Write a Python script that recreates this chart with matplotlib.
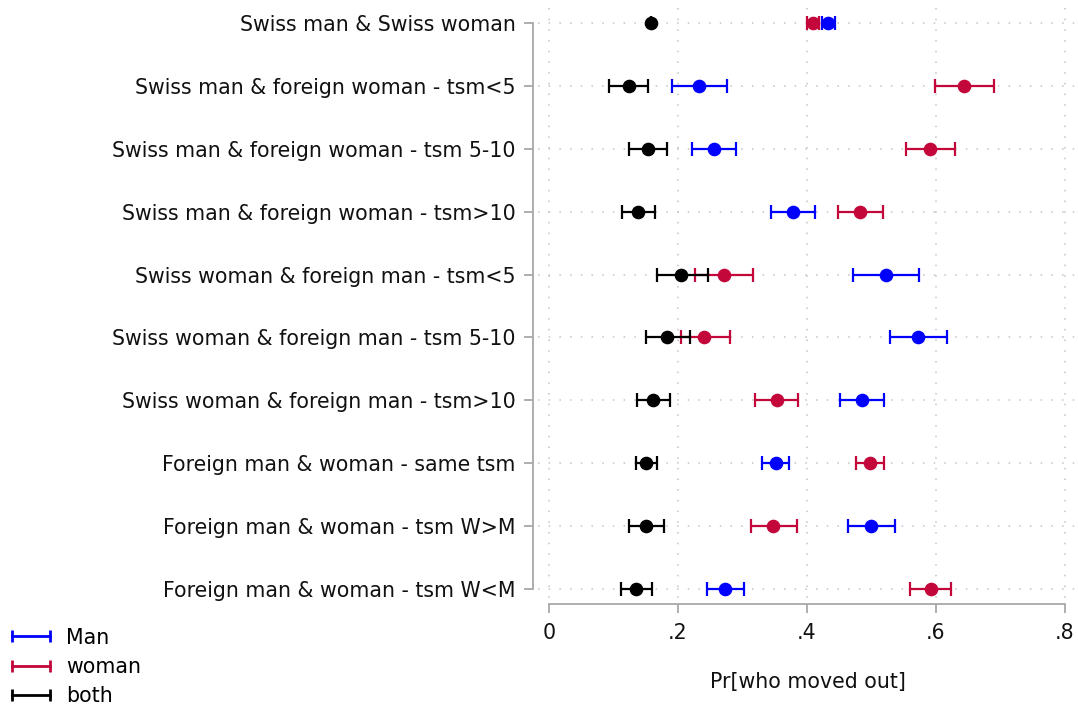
import numpy as np
import matplotlib.pyplot as plt
from matplotlib.lines import Line2D

# categorias (de cima para baixo)
categorias = [
    "Swiss man & Swiss woman",
    "Swiss man & foreign woman - tsm<5",
    "Swiss man & foreign woman - tsm 5-10",
    "Swiss man & foreign woman - tsm>10",
    "Swiss woman & foreign man - tsm<5",
    "Swiss woman & foreign man - tsm 5-10",
    "Swiss woman & foreign man - tsm>10",
    "Foreign man & woman - same tsm",
    "Foreign man & woman - tsm W>M",
    "Foreign man & woman - tsm W<M",
]

# Man
man_est = [0.432, 0.233, 0.256, 0.379, 0.522, 0.572, 0.485, 0.352, 0.500, 0.273]
man_lo = [0.424, 0.190, 0.222, 0.344, 0.471, 0.529, 0.451, 0.331, 0.463, 0.245]
man_hi = [0.443, 0.276, 0.290, 0.413, 0.574, 0.617, 0.520, 0.372, 0.537, 0.303]

# woman
woman_est = [0.409, 0.643, 0.591, 0.482, 0.271, 0.241, 0.353, 0.497, 0.348, 0.592]
woman_lo = [0.400, 0.598, 0.553, 0.448, 0.226, 0.205, 0.319, 0.476, 0.313, 0.560]
woman_hi = [0.418, 0.690, 0.630, 0.518, 0.316, 0.280, 0.386, 0.519, 0.385, 0.624]

# both
both_est = [0.158, 0.124, 0.154, 0.138, 0.205, 0.183, 0.161, 0.151, 0.151, 0.135]
both_lo = [0.158, 0.093, 0.124, 0.113, 0.167, 0.151, 0.136, 0.135, 0.124, 0.112]
both_hi = [0.158, 0.154, 0.183, 0.164, 0.246, 0.218, 0.187, 0.167, 0.178, 0.159]

xticks = [0, 0.2, 0.4, 0.6, 0.8]
xtick_labels = ["0", ".2", ".4", ".6", ".8"]

cor_man = "#0000ff"
cor_woman = "#c4073b"
cor_both = "#000000"
cor_eixo = "#a8a8a8"
tam_fonte = 14.8

fig = plt.figure(figsize=(10.78, 7.07), dpi=100)
ax = fig.add_axes([538 / 1078, 1 - 599 / 707, 540 / 1078, 591 / 707])

pos = np.arange(1, len(categorias) + 1)

series = [
    (man_est, man_lo, man_hi, cor_man),
    (woman_est, woman_lo, woman_hi, cor_woman),
    (both_est, both_lo, both_hi, cor_both),
]
for est, lo, hi, cor in series:
    est = np.array(est)
    erro = [est - np.array(lo), np.array(hi) - est]
    ax.errorbar(est, pos, xerr=erro, fmt="o", color=cor, ms=8.8,
                elinewidth=1.6, capsize=5, capthick=1.6, zorder=3)

# grade pontilhada
ax.set_xlim(-0.01705, 0.8202)
ax.set_ylim(10.159, 0.7615)
ax.vlines(xticks, 0.7615, 10.159, colors="#c4c4c4", linestyles=(0, (1, 6)), lw=1.1, zorder=1)
ax.hlines(pos, -0.01705, 0.8202, colors="#c4c4c4", linestyles=(0, (1, 6)), lw=1.1, zorder=1)

ax.set_yticks(pos)
ax.set_yticklabels(categorias)
ax.set_xticks(xticks)
ax.set_xticklabels(xtick_labels)
ax.tick_params(axis="both", colors=cor_eixo, labelcolor="#111111", width=1.3,
               length=6.5, labelsize=tam_fonte)
ax.tick_params(axis="y", pad=6)
ax.tick_params(axis="x", pad=7)

for lado in ["top", "right"]:
    ax.spines[lado].set_visible(False)
ax.spines["left"].set_position(("outward", 3.6))
ax.spines["bottom"].set_position(("outward", 3.6))
ax.spines["left"].set_bounds(1, 10)
ax.spines["bottom"].set_bounds(0, 0.8)
for lado in ["left", "bottom"]:
    ax.spines[lado].set_color(cor_eixo)
    ax.spines[lado].set_linewidth(1.3)

ax.set_xlabel("Pr[who moved out]", fontsize=tam_fonte, color="#111111", labelpad=21)

# legenda
handles = [Line2D([], [], color=c, lw=2, marker="|", ms=9, mew=2)
           for c in [cor_man, cor_woman, cor_both]]
fig.legend(handles, ["Man", "woman", "both"], loc="center left",
           bbox_to_anchor=(6 / 1078, 1 - 667 / 707), frameon=False,
           numpoints=2, fontsize=tam_fonte, handlelength=2.45, handletextpad=0.48,
           labelspacing=0.46, borderpad=0, borderaxespad=0)

plt.savefig("out.png", dpi=100)
